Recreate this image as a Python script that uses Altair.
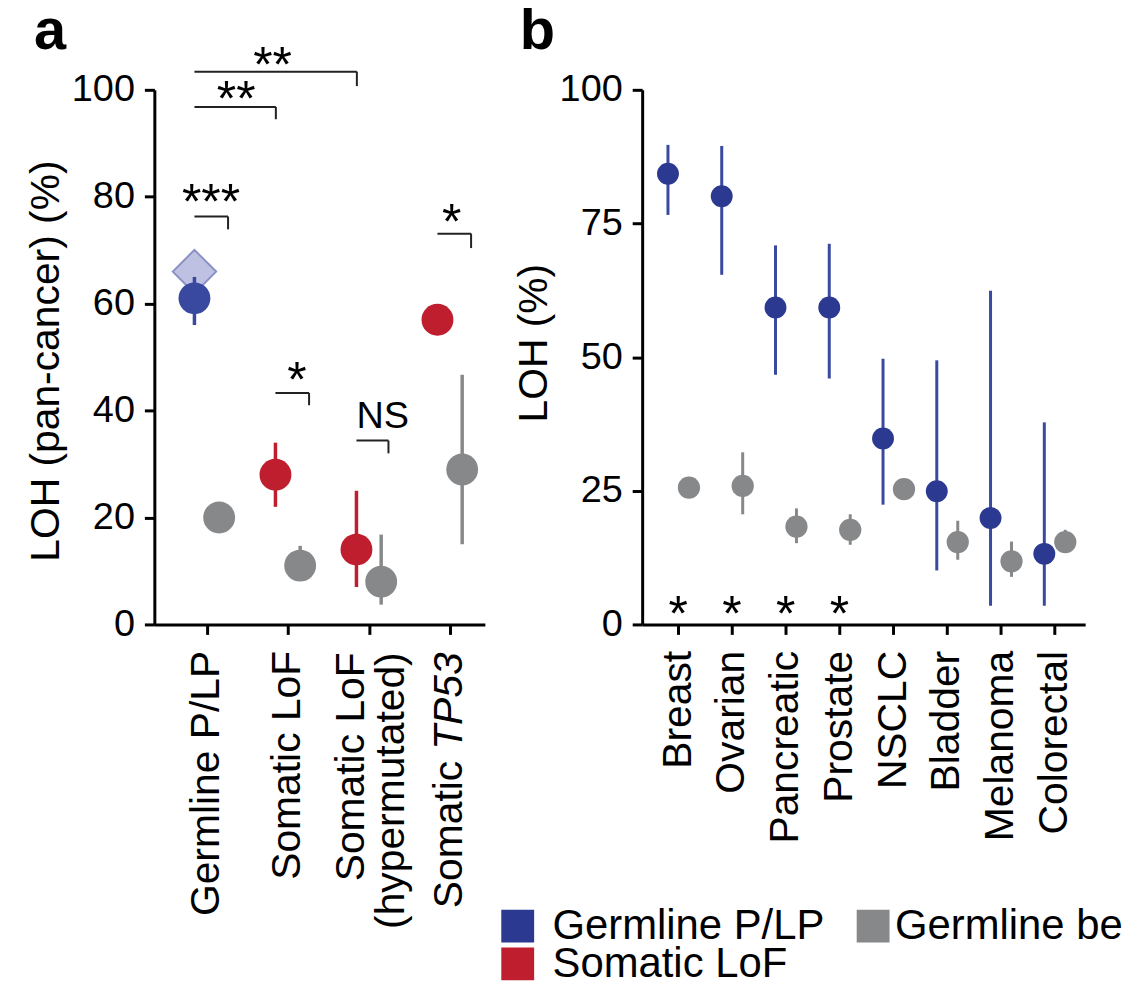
import altair as alt
import pandas as pd

FONT = "Liberation Sans"
BLUE = "#2b3990"
BLUE_BAR = "#3a49a0"
RED = "#be1e2d"
GRAY = "#87888a"
DIAMOND_FILL = "#b3b6dc"
DIAMOND_STROKE = "#8b90c5"

# ---------------- panel a data ----------------
a_categories = ["Germline P/LP", "Somatic LoF", "Somatic LoF (hypermutated)", "Somatic TP53"]
a_position = [1, 2, 3, 4]
a_class = ["Germline P/LP", "Somatic LoF", "Somatic LoF", "Somatic LoF"]
a_loh = [61, 28, 14, 57]
a_loh_low = [56, 22, 7, None]
a_loh_high = [65, 34, 25, None]
a_benign_loh = [20, 11, 8, 29]
a_benign_low = [None, 8.5, 3.7, 15]
a_benign_high = [None, 14.7, 16.8, 46.7]
a_expected_position = [1]
a_expected_loh = [66]
a_tick_labels = [["Germline P/LP"], ["Somatic LoF"], [""], [""]]
a_hyper_lines = ["Somatic LoF", "(hypermutated)"]
a_tp53_parts = ["Somatic", "TP53"]
a_y_ticks = [0, 20, 40, 60, 80, 100]

# significance brackets (panel a)
br_x1 = [0.845, 0.845, 0.845, 1.845, 2.845, 3.845]
br_x2 = [2.85, 1.85, 1.26, 2.26, 3.24, 4.26]
br_y = [103.4, 96.8, 76.3, 43.3, 34.4, 73.1]
br_drop = [100.7, 94.5, 73.9, 41.0, 32.0, 70.4]
br_text = ["**", "**", "***", "*", "NS", "*"]
br_tx = [1.81, 1.36, 1.05, 2.11, 3.17, 4.02]
br_ty = [106.1, 99.8, 80.4, 47.2, 38.8, 76.7]

# ---------------- panel b data ----------------
b_cancers = ["Breast", "Ovarian", "Pancreatic", "Prostate", "NSCLC", "Bladder", "Melanoma", "Colorectal"]
b_position = [1, 2, 3, 4, 5, 6, 7, 8]
b_plp = [84.3, 80.1, 59.3, 59.3, 34.8, 24.9, 19.9, 13.2]
b_plp_low = [76.6, 65.4, 46.7, 46.0, 22.4, 10.1, 3.5, 3.5]
b_plp_high = [89.7, 89.5, 70.9, 71.2, 49.7, 49.4, 62.4, 37.8]
b_benign = [25.6, 25.9, 18.3, 17.7, 25.3, 15.4, 11.8, 15.4]
b_benign_low = [None, 20.6, 15.2, 14.9, None, 12.1, 8.9, 13.5]
b_benign_high = [None, 32.2, 21.7, 20.6, None, 19.4, 15.5, 17.7]
b_star_position = [1, 2, 3, 4]
b_star_loh = [3.4, 3.4, 3.4, 3.4]
b_y_ticks = [0, 25, 50, 75, 100]

legend_labels = ["Germline P/LP", "Germline benign", "Somatic LoF"]
legend_colors = [BLUE, GRAY, RED]


def label_expr(positions, labels):
    expr = "''"
    for p, lab in reversed(list(zip(positions, labels))):
        if len(lab) == 1:
            s = "'" + lab[0] + "'"
        else:
            s = "[" + ", ".join("'" + l + "'" for l in lab) + "]"
        expr = f"datum.value == {p} ? {s} : ({expr})"
    return expr


# ---------------- tables ----------------
A_OFF_C, A_OFF_G = -0.155, 0.15
a_col = pd.DataFrame({"x": [p + A_OFF_C for p in a_position], "y": a_loh,
                      "lo": a_loh_low, "hi": a_loh_high, "cls": a_class})
a_ben = pd.DataFrame({"x": [p + A_OFF_G for p in a_position], "y": a_benign_loh,
                      "lo": a_benign_low, "hi": a_benign_high})
a_exp = pd.DataFrame({"x": [p + A_OFF_C for p in a_expected_position], "y": a_expected_loh})
a_br = pd.DataFrame({"x": br_x1, "x2": br_x2, "y": br_y, "yd": br_drop})
a_brt = pd.DataFrame({"x": br_tx, "y": br_ty, "t": br_text})
a_lab4 = pd.DataFrame({"x": [4]})
a_lab3 = pd.DataFrame({"x": [3]})

B_OFF_C, B_OFF_G = -0.19, 0.2
b_col = pd.DataFrame({"x": [p + B_OFF_C for p in b_position], "y": b_plp,
                      "lo": b_plp_low, "hi": b_plp_high})
b_ben = pd.DataFrame({"x": [p + B_OFF_G for p in b_position], "y": b_benign,
                      "lo": b_benign_low, "hi": b_benign_high})
b_st = pd.DataFrame({"x": b_star_position, "y": b_star_loh})

# ---------------- scales / axes ----------------
H = 537
WA, WB = 332, 445
LBL = 41
sy = alt.Scale(domain=[0, 100], nice=False, zero=True)
sxa = alt.Scale(domain=[0.35, 4.43], nice=False, zero=False)
sxb = alt.Scale(domain=[0.33, 8.57], nice=False, zero=False)

ax_ax = alt.Axis(values=a_position, labelExpr=label_expr(a_position, a_tick_labels),
                 labelAngle=270, labelAlign="right", labelBaseline="middle",
                 labelFontSize=LBL, labelPadding=16, labelLimit=600,
                 labelOverlap=False, labelFlush=False, title=None)
ax_ay = alt.Axis(values=a_y_ticks, title="LOH (pan-cancer) (%)", labelPadding=10,
                 titlePadding=4, titleY=272)
ax_bx = alt.Axis(values=b_position,
                 labelExpr=label_expr(b_position, [[c] for c in b_cancers]),
                 labelAngle=270, labelAlign="right", labelBaseline="middle",
                 labelFontSize=LBL, labelPadding=16, labelLimit=600, labelOverlap=False,
                 labelFlush=False, title=None)
ax_by = alt.Axis(values=b_y_ticks, title="LOH (%)", labelPadding=10,
                 titlePadding=4, titleY=254)


def X(f, s, a):
    return alt.X(f, type="quantitative", scale=s, axis=a)


def Y(f, a):
    return alt.Y(f, type="quantitative", scale=sy, axis=a)


color_a = alt.Color("cls:N", scale=alt.Scale(domain=["Germline P/LP", "Somatic LoF"],
                                              range=[BLUE, RED]), legend=None)
color_bar_a = alt.Color("cls:N", scale=alt.Scale(domain=["Germline P/LP", "Somatic LoF"],
                                                  range=[BLUE_BAR, RED]), legend=None)

STAR_DY = 25
LABEL_Y = H + 28

# ---------------- panel a ----------------
pa_diamond = alt.Chart(a_exp).mark_point(shape="diamond", size=1900, filled=True,
                                         fill=DIAMOND_FILL, fillOpacity=0.85,
                                         stroke=DIAMOND_STROKE, strokeWidth=2, opacity=1).encode(
    x=X("x", sxa, ax_ax), y=Y("y", ax_ay))
pa_cbar = alt.Chart(a_col).mark_rule(strokeWidth=3.5).encode(
    x=X("x", sxa, ax_ax), y=Y("lo", ax_ay), y2="hi", color=color_bar_a)
pa_gbar = alt.Chart(a_ben).mark_rule(strokeWidth=3.5, color=GRAY).encode(
    x=X("x", sxa, ax_ax), y=Y("lo", ax_ay), y2="hi")
pa_cpt = alt.Chart(a_col).mark_circle(size=1024, opacity=1).encode(
    x=X("x", sxa, ax_ax), y=Y("y", ax_ay), color=color_a)
pa_gpt = alt.Chart(a_ben).mark_circle(size=1024, opacity=1, color=GRAY).encode(
    x=X("x", sxa, ax_ax), y=Y("y", ax_ay))
pa_brh = alt.Chart(a_br).mark_rule(strokeWidth=2, color="#222").encode(
    x=X("x", sxa, ax_ax), x2="x2", y=Y("y", ax_ay))
pa_brv = alt.Chart(a_br).mark_rule(strokeWidth=2, color="#222").encode(
    x=X("x2", sxa, ax_ax), y=Y("y", ax_ay), y2="yd")
pa_star = alt.Chart(a_brt).transform_filter("datum.t != 'NS'").mark_text(
    fontSize=50, baseline="alphabetic", align="center", dy=STAR_DY, color="black").encode(
    x=X("x", sxa, ax_ax), y=Y("y", ax_ay), text="t:N")
pa_ns = alt.Chart(a_brt).transform_filter("datum.t == 'NS'").mark_text(
    fontSize=38, baseline="middle", align="center", color="black").encode(
    x=X("x", sxa, ax_ax), y=Y("y", ax_ay), text="t:N")
# tick label "Somatic LoF (hypermutated)" on two lines
pa_hyp1 = alt.Chart(a_lab3).mark_text(text=a_hyper_lines[0], fontSize=LBL, angle=270,
                                      align="right", baseline="middle", dy=-17,
                                      color="black").encode(
    x=X("x", sxa, ax_ax), y=alt.value(LABEL_Y))
pa_hyp2 = alt.Chart(a_lab3).mark_text(text=a_hyper_lines[1], fontSize=LBL, angle=270,
                                      align="right", baseline="middle", dy=23,
                                      color="black").encode(
    x=X("x", sxa, ax_ax), y=alt.value(LABEL_Y))
# tick label "Somatic TP53" with italic gene name
pa_tp53 = alt.Chart(a_lab4).mark_text(text=a_tp53_parts[1], fontSize=LBL, fontStyle="italic",
                                      angle=270, align="right", baseline="middle",
                                      color="black").encode(
    x=X("x", sxa, ax_ax), y=alt.value(LABEL_Y))
pa_som = alt.Chart(a_lab4).mark_text(text=a_tp53_parts[0], fontSize=LBL, angle=270,
                                     align="right", baseline="middle", dx=-109,
                                     color="black").encode(
    x=X("x", sxa, ax_ax), y=alt.value(LABEL_Y))
pa_letter = alt.Chart(a_lab4).mark_text(text="a", fontSize=58, fontWeight="bold",
                                        align="left", baseline="alphabetic",
                                        color="black").encode(
    x=alt.value(-121), y=alt.value(-41))

panel_a = alt.layer(pa_diamond, pa_cbar, pa_gbar, pa_cpt, pa_gpt, pa_brh, pa_brv,
                    pa_star, pa_ns, pa_hyp1, pa_hyp2, pa_tp53, pa_som,
                    pa_letter).properties(width=WA, height=H)

# ---------------- panel b ----------------
pb_cbar = alt.Chart(b_col).mark_rule(strokeWidth=3, color=BLUE_BAR).encode(
    x=X("x", sxb, ax_bx), y=Y("lo", ax_by), y2="hi")
pb_gbar = alt.Chart(b_ben).mark_rule(strokeWidth=3, color=GRAY).encode(
    x=X("x", sxb, ax_bx), y=Y("lo", ax_by), y2="hi")
pb_cpt = alt.Chart(b_col).mark_circle(size=484, opacity=1, color=BLUE).encode(
    x=X("x", sxb, ax_bx), y=Y("y", ax_by))
pb_gpt = alt.Chart(b_ben).mark_circle(size=500, opacity=1, color=GRAY).encode(
    x=X("x", sxb, ax_bx), y=Y("y", ax_by))
pb_star = alt.Chart(b_st).mark_text(text="*", fontSize=50, baseline="alphabetic",
                                    align="center", dy=STAR_DY, color="black").encode(
    x=X("x", sxb, ax_bx), y=Y("y", ax_by))
one = pd.DataFrame({"k": [0]})
pb_letter = alt.Chart(one).mark_text(text="b", fontSize=58, fontWeight="bold",
                                     align="left", baseline="alphabetic",
                                     color="black").encode(
    x=alt.value(-123), y=alt.value(-41))

legend_layers = []
leg_sq_x = [-125, 232, -125]
leg_sq_y = [840, 840, 878]
leg_tx_x = [-90, 254, -90]
leg_limit = [600, 230, 600]
for lab, col, sx_, sy_, tx_, lim in zip(legend_labels, legend_colors, leg_sq_x, leg_sq_y,
                                        leg_tx_x, leg_limit):
    legend_layers.append(alt.Chart(one).mark_square(size=1089, color=col, opacity=1).encode(
        x=alt.value(sx_), y=alt.value(sy_)))
    legend_layers.append(alt.Chart(one).mark_text(text=lab, fontSize=42, align="left",
                                                  baseline="middle", color="black",
                                                  limit=lim, ellipsis="\u200b").encode(
        x=alt.value(tx_), y=alt.value(sy_)))

panel_b = alt.layer(pb_cbar, pb_gbar, pb_cpt, pb_gpt, pb_star, pb_letter,
                    *legend_layers).properties(width=WB, height=H)

chart = alt.hconcat(panel_a, panel_b, spacing=158, bounds="flush").properties(
    padding={"left": 17, "top": -7, "right": 0, "bottom": 0}
).configure(font=FONT).configure_view(stroke=None).configure_axis(
    grid=False, domainColor="black", domainWidth=3, tickColor="black", tickWidth=3,
    tickSize=10, labelColor="black", labelFontSize=38, labelFont=FONT,
    titleColor="black", titleFontSize=41, titleFontWeight="normal", titleFont=FONT
)

chart.save("out.html", embed_options={"renderer": "svg", "actions": False})
